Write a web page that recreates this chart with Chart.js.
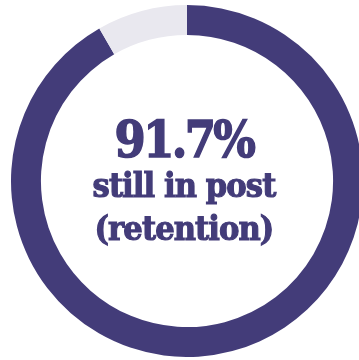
<!DOCTYPE html>
<html>
<head>
<meta charset="utf-8">
<script src="https://cdn.jsdelivr.net/npm/chart.js@4/dist/chart.umd.min.js"></script>
<style>
  html, body { margin: 0; padding: 0; background: #fff; width: 359px; height: 360px; overflow: hidden; }
  #wrap { position: absolute; left: 11px; top: 5px; width: 352px; height: 352px; }
  .label { position: absolute; left: 0; width: 368px; text-align: center; color: #433c79;
           font-family: "DejaVu Serif", serif; font-weight: bold; white-space: nowrap;
           -webkit-text-stroke: 1.2px #433c79; transform-origin: 184px 0; }
  #big { top: 114px; font-size: 51px; line-height: 51px; letter-spacing: -3px; transform: scaleX(0.88); -webkit-text-stroke-width: 1.6px; }
  #line1 { top: 168px; font-size: 34px; line-height: 34px; letter-spacing: -1px; transform: scaleX(0.9); }
  #line2 { top: 211px; font-size: 34px; line-height: 34px; letter-spacing: -1px; transform: scaleX(0.9); }
</style>
</head>
<body>
<div id="wrap"><canvas id="chart"></canvas></div>
<div class="label" id="big"></div>
<div class="label" id="line1"></div>
<div class="label" id="line2"></div>
<script>
// retention split
const categories = ['Still in post', 'Left'];
const values = [91.7, 8.3];
const colors = ['#433c79', '#e9e8ef'];
const headline = '91.7%';
const captionLines = ['still in post', '(retention)'];

document.getElementById('big').textContent = headline;
document.getElementById('line1').textContent = captionLines[0];
document.getElementById('line2').textContent = captionLines[1];

new Chart(document.getElementById('chart'), {
  type: 'doughnut',
  data: {
    labels: categories,
    datasets: [{
      data: values,
      backgroundColor: colors,
      borderWidth: 0,
    }],
  },
  options: {
    responsive: true,
    maintainAspectRatio: false,
    animation: false,
    cutout: '83%',
    layout: { padding: 0 },
    plugins: {
      legend: { display: false },
      tooltip: { enabled: false },
    },
  },
});
</script>
</body>
</html>
